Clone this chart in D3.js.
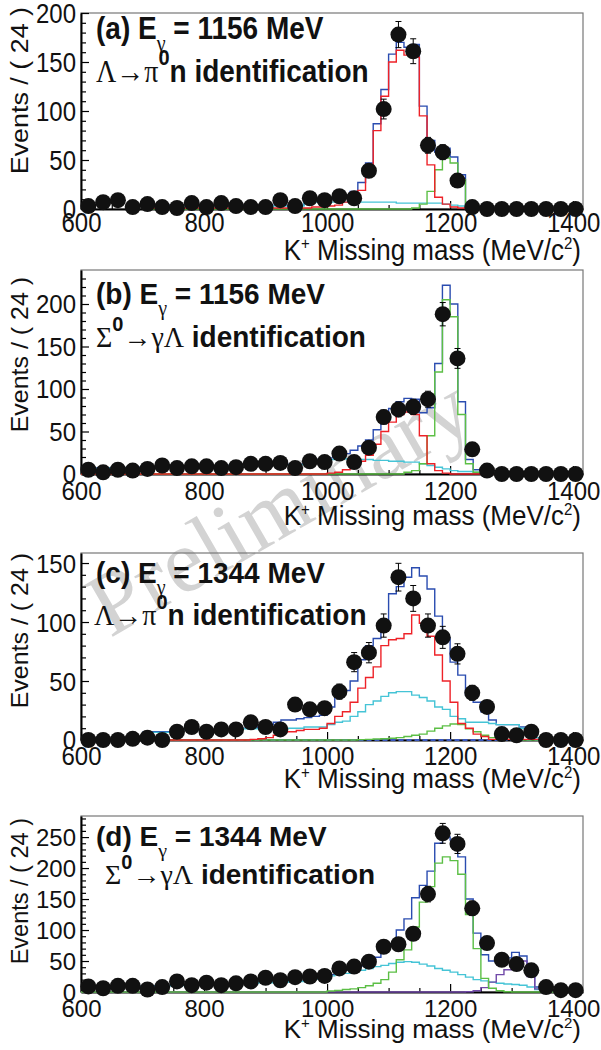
<!DOCTYPE html>
<html>
<head>
<meta charset="utf-8">
<script src="https://cdnjs.cloudflare.com/ajax/libs/d3/7.8.5/d3.min.js"></script>
<style>
  body { margin: 0; background: #fff; }
  svg { display: block; font-family: "Liberation Sans", Arial, Helvetica, sans-serif; }
  text { white-space: pre; }
</style>
</head>
<body>
<svg id="chart" width="601" height="1050"></svg>
<script>
// data points: 24 MeV bins
const binCentres = [612, 636, 660, 684, 708, 732, 756, 780, 804, 828, 852, 876, 900, 924, 948, 972, 996,
  1020, 1044, 1068, 1092, 1116, 1140, 1164, 1188, 1212, 1236, 1260, 1284, 1308, 1332, 1356, 1380, 1404];

const aData = [3, 7, 9, 2, 5, 2, 1, 6, 2, 6, 3, 2, 2, 9, 3, 11, 9, 13, 11, 39, 102, 178, 161, 65, 58, 29, 2, 0, 0, 0, 0, 0, 0, 0];
const bData = [5, 2, 5, 4, 6, 10, 7, 9, 9, 7, 8, 12, 12, 13, 7, 15, 14, 24, 14, 31, 67, 76, 79, 88, 188, 136, 29, 4, 0, 0, 0, 0, 0, 0];
const cData = [0, 0, 0, 1, 2, 0, 7, 11, 7, 9, 9, 15, 11, 9, 30, 26, 27, 41, 66, 74, 97, 138, 120, 97, 87, 73, 40, 28, 5, 4, 7, 0, 0, 0];
const dData = [9, 6, 10, 10, 4, 8, 17, 11, 15, 11, 14, 17, 23, 19, 24, 25, 26, 38, 41, 49, 73, 77, 94, 158, 256, 239, 135, 79, 52, 45, 35, 8, 3, 3];

// fit components, 12.5 MeV steps
const modelBin = 12.5;

// (a) starts at 700
const aBlue = [4, 4, 4, 4, 4, 4, 4, 4, 4, 4, 4, 4, 4, 4, 4, 4, 4, 4, 4, 4, 4,
  8, 9, 9, 10, 11, 14, 18, 27, 47, 87, 122, 158, 170, 165, 168, 105, 70, 58, 62, 53, 35, 4, 2, 1,
  0, 0, 0, 0, 0, 0, 0, 0, 0, 0, 0];
const aRed = [1, 1, 1, 1, 1, 1, 1, 1, 1, 1, 1, 1, 1, 1, 1, 1, 1, 1, 1, 1, 1, 1,
  2, 2, 3, 4, 7, 11, 19, 40, 80, 115, 150, 162, 157, 155, 95, 45, 12, 5, 2, 1,
  0, 0, 0, 0, 0, 0, 0, 0, 0, 0, 0, 0, 0, 0];
const aGreen = [0, 0, 0, 0, 0, 0, 0, 0, 0, 0, 0, 0, 0, 0, 0, 0, 0, 0, 0, 0, 0, 0, 0, 0, 0, 0, 0, 0, 0, 0, 0, 0, 0, 0, 0,
  1, 5, 18, 40, 52, 47, 30, 2,
  0, 0, 0, 0, 0, 0, 0, 0, 0, 0, 0, 0, 0];
const aCyan = [3, 3, 3, 3, 3, 3, 3, 3, 3, 3, 3, 3, 3, 3, 3, 3, 3, 3, 3, 3, 3,
  7, 7, 7, 7, 7, 7, 7, 7, 7, 7, 7, 7, 6, 6, 6, 6, 6, 6, 5, 4, 3, 2, 2];

// (b) starts at 600
const bBlue = [6.5, 6.5, 7, 7.5, 7.5, 7.5, 8, 8, 8.5, 8.5, 8.5, 8.5, 9, 9, 9, 9.5, 9.5, 9.5, 10, 10,
  10.5, 10.5, 10.5, 11, 11, 11, 11.5, 11.5, 11.5, 17, 17, 18,
  19, 21, 24, 28, 33, 40, 52, 66, 77, 85, 89, 88, 72, 78, 130, 222, 200, 85, 17, 5, 2,
  0, 0, 0, 0, 0, 0, 0, 0, 0, 0, 0];
const bRed = [0, 0, 0, 0, 0, 0, 0, 0, 0, 0, 0, 0, 0, 0, 0, 0, 0, 0, 0, 0, 0, 0, 0, 0, 0, 0, 0, 0, 0, 0, 0, 0,
  1, 2, 5, 9, 15, 22, 35, 50, 61, 70, 73, 70, 45, 12, 4, 1,
  0, 0, 0, 0, 0, 0, 0, 0, 0, 0, 0, 0, 0, 0, 0, 0];
const bGreen = [0, 0, 0, 0, 0, 0, 0, 0, 0, 0, 0, 0, 0, 0, 0, 0, 0, 0, 0, 0, 0, 0, 0, 0, 0, 0, 0, 0, 0, 0, 0, 0, 0, 0, 0, 0, 0, 0, 0, 0, 0, 0,
  2, 4, 12, 45, 120, 205, 185, 70, 12, 2,
  0, 0, 0, 0, 0, 0, 0, 0, 0, 0, 0, 0];
const bCyan = [6, 6, 6.5, 7, 7, 7, 7.5, 7.5, 8, 8, 8, 8, 8.5, 8.5, 8.5, 9, 9, 9, 9.5, 9.5, 10, 10, 10, 10.5,
  10.5, 10.5, 11, 11, 11, 16, 16, 17, 17, 18, 18, 18, 17, 17, 16, 16, 15, 15, 14, 14,
  12, 10, 8, 6, 4, 3, 3, 2];

// (c) starts at 700
const cBlue = [7, 7, 7, 7, 7, 9, 9, 9, 9, 9, 9, 9, 10, 10, 10,
  12, 13, 15, 17, 17, 18, 19, 20, 21, 28, 36, 42, 50, 68, 80, 86, 96, 124, 130, 138, 146, 139, 128, 105,
  86, 66, 55, 38, 32, 24, 17, 13, 13, 13, 11, 10, 2, 1, 1, 1, 0];
const cRed = [0, 0, 0, 0, 0, 0, 0, 0, 0, 0, 0, 0, 0, 0,
  0.5, 1, 2, 4, 7, 7, 8, 9, 9, 10, 14, 20, 24, 32, 44, 53, 62, 80, 85, 86, 90, 106, 99, 88, 72, 50, 32, 14, 10, 5, 3,
  0.5, 0.5, 0.5, 0.5, 0.5, 0.5, 0.5, 0.5, 0.5, 0.5, 0.5];
const cGreen = [0, 0, 0, 0, 0, 0, 0, 0, 0, 0, 0, 0, 0, 0, 0, 0, 0, 0, 0, 0, 0, 0, 0, 0, 0, 0, 0, 0,
  0.3, 0.5, 0.8, 1, 1.5, 2, 3, 4, 5, 7.5, 10, 12, 13.5, 13, 9.5, 7, 4, 2, 1, 0.5,
  0, 0, 0, 0, 0, 0, 0, 0];
const cCyan = [6.5, 6.5, 6.5, 6.5, 6.5, 8.5, 8.5, 8.5, 8.5, 8.5, 8.5, 8.5, 9.5, 9.5, 9.5, 9.5, 9.5,
  10, 10, 10, 10, 11, 11, 11, 13, 15, 16, 20, 24, 30, 33, 37, 40, 41, 41, 38, 36, 33, 28, 26, 20, 18,
  15, 15, 15, 14, 13, 13, 13, 10, 10, 2, 1, 1, 1, 0];
const cDashedSpan = [700, 1400];

// (d) starts at 600
const dBlue = [7.5, 8, 8, 8.5, 8.5, 9, 9, 9.5, 9.5, 10, 10, 10.5, 10.5, 11, 11.5, 11.5, 12, 12.5, 12.5, 13.5,
  13.5, 14.5, 14.5, 15.5, 15.5, 16.5, 16.5, 17.5, 17.5, 21, 22, 23,
  28, 32, 35, 38, 42, 48, 56, 66, 78, 100, 118, 152, 172, 195, 240, 250, 245, 218, 150, 95, 60, 50, 50, 55,
  64, 58, 32, 8, 2, 1.5, 1.5, 1];
const dGreen = [0, 0, 0, 0, 0, 0, 0, 0, 0, 0, 0, 0, 0, 0, 0, 0, 0, 0, 0, 0, 0, 0, 0, 0, 0, 0, 0, 0, 0, 0, 0, 0,
  1.5, 2.5, 4, 5, 7, 10, 14, 20, 32, 52, 68, 105, 145, 170, 208, 218, 212, 190, 125, 70, 22, 6, 2, 0.5,
  0, 0, 0, 0, 0, 0, 0, 0];
const dCyan = [7, 7.5, 7.5, 8, 8, 8.5, 8.5, 9, 9, 9.5, 9.5, 10, 10, 10.5, 11, 11, 11.5, 12, 12, 13, 13, 14, 14, 15,
  15, 16, 16, 17, 17, 20, 21, 22,
  26, 28, 30, 32, 35, 38, 41, 43, 46, 48, 49, 48, 45, 42, 38, 35, 32, 28, 24, 20, 18, 16, 14, 13, 12, 11, 8, 4,
  2, 1.5, 1.5, 1];
const dPurple = [0, 0, 0, 0, 0, 0, 0, 0, 0, 0, 0, 0, 0, 0, 0, 0, 0, 0, 0, 0, 0, 0, 0, 0, 0, 0, 0, 0, 0, 0, 0, 0, 0, 0, 0, 0, 0, 0, 0, 0, 0, 0, 0, 0, 0, 0, 0, 0, 0, 0,
  0.5, 2, 7, 16, 28, 36, 48, 50, 25, 5, 0.5, 0, 0, 0];

const xTickLabels = [600, 800, 1000, 1200, 1400];

const col = { blue: "#2a4cb0", red: "#ee2228", green: "#5cbf45", cyan: "#45c4d6", purple: "#7048a8" };
const sans = '"Liberation Sans", Arial, Helvetica, sans-serif';
const serif = '"Liberation Serif", "Times New Roman", serif';

const panels = [
  { tag: "a", energy: 1156, decay: "lambda", data: aData, from: 700,
    curves: [[aBlue, col.blue], [aCyan, col.cyan], [aGreen, col.green], [aRed, col.red]],
    top: 13, bottom: 209, yMax: 200, yTicks: [0, 50, 100, 150, 200], sy: 1.12,
    l1: 39, l2: 82, l2x: 96, titleTop: 7, xLab: 232, xTitle: 260 },
  { tag: "b", energy: 1156, decay: "sigma", data: bData, from: 600,
    curves: [[bBlue, col.blue], [bCyan, col.cyan], [bGreen, col.green], [bRed, col.red]],
    top: 270, bottom: 474, yMax: 240, yTicks: [0, 50, 100, 150, 200], sy: 1.04,
    l1: 304, l2: 347, l2x: 96, titleTop: 277, xLab: 500, xTitle: 525 },
  { tag: "c", energy: 1344, decay: "lambda", data: cData, from: 700, dashed: cDashedSpan,
    curves: [[cBlue, col.blue], [cCyan, col.cyan], [cGreen, col.green], [cRed, col.red]],
    top: 553, bottom: 740, yMax: 158.5, yTicks: [0, 50, 100, 150], sy: 1.04,
    l1: 583, l2: 625, l2x: 94, titleTop: 553, xLab: 765, xTitle: 788 },
  { tag: "d", energy: 1344, decay: "sigma", data: dData, from: 600,
    curves: [[dBlue, col.blue], [dCyan, col.cyan], [dPurple, col.purple], [dGreen, col.green]],
    top: 816, bottom: 992, yMax: 284, yTicks: [0, 50, 100, 150, 200, 250], sy: 0.98,
    l1: 846, l2: 884, l2x: 105, titleTop: 818, xLab: 1017, xTitle: 1038 }
];

const svg = d3.select("#chart");
const x = d3.scaleLinear().domain([600, 1416]).range([81, 583]);

// watermark behind everything
svg.append("text")
  .attr("transform", "translate(294,532) rotate(-30)")
  .attr("text-anchor", "middle")
  .attr("font-family", serif)
  .attr("font-size", 90)
  .attr("fill", "#d3d3d3")
  .text("Preliminary");

panels.forEach(p => {
  const g = svg.append("g");
  const y = d3.scaleLinear().domain([0, p.yMax]).range([p.bottom, p.top]);

  // frame
  g.append("rect")
    .attr("x", x.range()[0]).attr("y", p.top)
    .attr("width", x.range()[1] - x.range()[0]).attr("height", p.bottom - p.top)
    .attr("fill", "none").attr("stroke", "#777").attr("stroke-width", 1.2);

  // axes
  const minorX = d3.range(650, 1416, 50).filter(v => v % 200 !== 0);
  const minorY = d3.range(10, p.yMax, 10).filter(v => v % 50 !== 0);

  const gx = g.append("g").attr("transform", `translate(0,${p.bottom})`)
    .call(d3.axisBottom(x).tickValues(xTickLabels).tickSize(-8).tickSizeOuter(0).tickFormat(d3.format("d")));
  g.append("g").attr("transform", `translate(0,${p.bottom})`)
    .call(d3.axisBottom(x).tickValues(minorX).tickSize(-4).tickSizeOuter(0).tickFormat(""))
    .select(".domain").remove();
  const gy = g.append("g").attr("transform", `translate(${x.range()[0]},0)`)
    .call(d3.axisLeft(y).tickValues(p.yTicks).tickSize(-8).tickSizeOuter(0).tickPadding(5));
  g.append("g").attr("transform", `translate(${x.range()[0]},0)`)
    .call(d3.axisLeft(y).tickValues(minorY).tickSize(-5).tickSizeOuter(0).tickFormat(""))
    .select(".domain").remove();

  g.selectAll(".tick line").attr("stroke", "#000").attr("stroke-width", 1.2);
  [gx, gy].forEach(a => a.select(".domain").attr("stroke", "#000").attr("stroke-width", 2));
  gx.selectAll("text")
    .attr("y", null).attr("dy", null)
    .attr("transform", `translate(0,${p.xLab - p.bottom}) scale(1,${p.sy})`)
    .attr("font-family", sans).attr("font-size", 24).attr("fill", "#111");
  gy.selectAll("text")
    .attr("dy", "0.36em")
    .attr("transform", `scale(1,${p.sy})`)
    .attr("font-family", sans).attr("font-size", 24).attr("fill", "#111");

  // titles
  g.append("text")
    .attr("transform", `translate(28,${p.titleTop}) scale(1,${p.sy}) rotate(-90)`)
    .attr("text-anchor", "end").attr("font-size", 24).attr("fill", "#111")
    .text("Events / ( 24 )");
  const xt = g.append("text")
    .attr("transform", `translate(581,${p.xTitle}) scale(1,${p.sy})`)
    .attr("text-anchor", "end").attr("font-size", 26).attr("fill", "#111");
  xt.append("tspan").text("K");
  xt.append("tspan").attr("font-size", 15).attr("dy", -10).text("+");
  xt.append("tspan").attr("dy", 10).text(" Missing mass (MeV/c");
  xt.append("tspan").attr("font-size", 15).attr("dy", -10).text("2");
  xt.append("tspan").attr("dy", 10).text(")");

  // fit components as step histograms
  const line = d3.line().x(d => x(d[0])).y(d => y(d[1])).curve(d3.curveStepAfter);
  if (p.dashed) {
    g.append("path")
      .attr("d", line([[p.dashed[0], 0], [p.dashed[1], 0]]))
      .attr("fill", "none").attr("stroke", "#3a58c0").attr("stroke-width", 2.2)
      .attr("stroke-dasharray", "5,3");
  }
  p.curves.forEach(([vals, c]) => {
    const pts = vals.map((v, i) => [p.from + i * modelBin, v]);
    pts.push([p.from + vals.length * modelBin, vals[vals.length - 1]]);
    g.append("path")
      .attr("d", line(pts))
      .attr("fill", "none").attr("stroke", c).attr("stroke-width", 1.4);
  });

  // data points with Poisson error bars
  const pts = g.append("g");
  p.data.forEach((v, i) => {
    const cx = x(binCentres[i]);
    if (v > 0) {
      const e = Math.sqrt(v);
      const y1 = y(v + e), y0 = y(Math.max(0, v - e));
      pts.append("line").attr("x1", cx).attr("x2", cx).attr("y1", y1).attr("y2", y0)
        .attr("stroke", "#000").attr("stroke-width", 1);
      [y1, y0].forEach(yy => pts.append("line")
        .attr("x1", cx - 3).attr("x2", cx + 3).attr("y1", yy).attr("y2", yy)
        .attr("stroke", "#000").attr("stroke-width", 1));
    }
    pts.append("circle").attr("cx", cx).attr("cy", y(v)).attr("r", 8).attr("fill", "#111");
  });

  // panel label
  const t1 = g.append("text")
    .attr("transform", `translate(96,${p.l1}) scale(1,${p.sy})`)
    .attr("font-weight", "bold").attr("font-size", 28).attr("fill", "#111");
  t1.append("tspan").text(`(${p.tag}) E`);
  t1.append("tspan").attr("font-family", serif).attr("font-weight", "normal")
    .attr("font-size", 20).attr("dy", 11).text("γ");
  t1.append("tspan").attr("dy", -11).text(` = ${p.energy} MeV`);

  const t2 = g.append("text")
    .attr("transform", `translate(${p.l2x},${p.l2}) scale(1,${p.sy})`)
    .attr("font-weight", "bold").attr("font-size", 28).attr("fill", "#111");
  if (p.decay === "lambda") {
    t2.append("tspan").attr("font-family", serif).attr("font-weight", "normal").text("Λ→π");
    t2.append("tspan").attr("font-size", 20).attr("dy", -15).text("0");
    t2.append("tspan").attr("dy", 15).text("n identification");
  } else {
    t2.append("tspan").attr("font-family", serif).attr("font-weight", "normal").text("Σ");
    t2.append("tspan").attr("font-size", 20).attr("dy", -15).text("0");
    t2.append("tspan").attr("font-family", serif).attr("font-weight", "normal").attr("dy", 15).text("→γΛ");
    t2.append("tspan").text(" identification");
  }
});
</script>
</body>
</html>
